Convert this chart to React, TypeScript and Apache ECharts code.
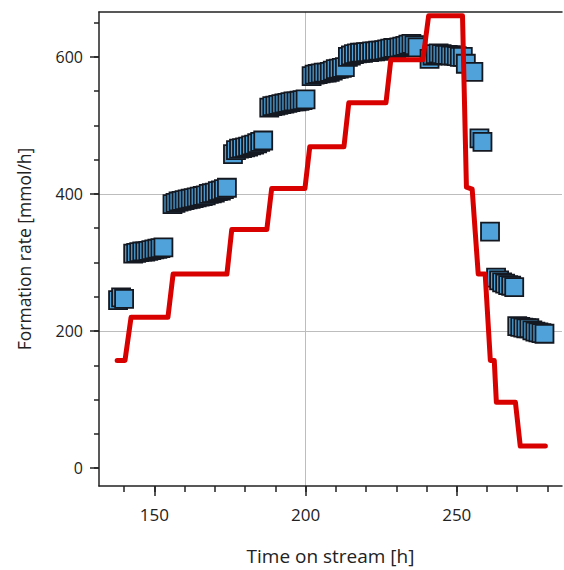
import React, { useEffect, useRef } from "react";
import * as echarts from "echarts";

// Measured formation rate (blue squares)
const measuredTime = [
  138, 139, 140,
  143, 144, 145, 146, 147, 148, 149, 150, 151, 152, 153,
  156, 157, 158, 159, 160, 161, 162, 163, 164, 165, 166, 167, 168, 169, 170, 171, 172, 173, 174,
  176, 177, 178, 179, 180, 181, 182, 183, 184, 185, 186,
  188, 189, 190, 191, 192, 193, 194, 195, 196, 197, 198, 199, 200,
  202, 203, 204, 205, 206, 207, 208, 209, 210, 211, 212, 213,
  214, 215, 216, 217, 218, 219, 220, 221, 222, 223, 224, 225, 226, 227, 228, 229, 230, 231, 232, 233, 234, 235, 236, 237,
  241, 242, 243, 244, 245, 246, 247, 248, 249, 250, 251, 252, 253, 255.5,
  257.5, 258.5,
  261,
  263, 264, 265, 266, 267, 268, 269,
  270, 271, 272, 273, 274, 275, 276, 277, 278, 279,
];
const measuredRate = [
  245, 249, 247,
  313, 314, 315, 316, 316, 317, 318, 319, 320, 321, 322,
  385, 387, 389, 390, 391, 392, 393, 394, 395, 396, 397, 398, 400, 401, 402, 404, 405, 407, 409,
  458, 464, 466, 467, 468, 469, 471, 472, 474, 476, 478,
  526, 528, 529, 530, 531, 532, 533, 534, 535, 535, 536, 537, 538,
  572, 574, 575, 576, 577, 577, 578, 580, 582, 583, 584, 585,
  600, 602, 604, 605, 606, 606, 607, 607, 608, 608, 609, 609, 610, 611, 612, 613, 613, 614, 615, 616, 618, 619, 617, 614,
  597, 602, 604, 605, 604, 603, 603, 602, 602, 601, 600, 600, 590, 578,
  481, 476,
  345,
  278, 274, 271, 269, 267, 266, 264,
  207, 206, 205, 204, 204, 201, 199, 198, 197, 196,
];

// Set-point line (red)
const setTime = [
  137.7, 140.3, 142.3, 154.5, 156.2, 174.0, 175.6, 187.2, 188.8, 199.8, 201.4, 212.7,
  214.3, 226.6, 228.2, 238.8, 240.7, 251.9, 253.2, 255.1, 257.1, 259.4, 261.1, 262.4,
  263.1, 269.4, 271.0, 279.3,
];
const setRate = [
  157, 157, 220, 220, 283, 283, 348, 348, 408, 408, 469, 469,
  533, 533, 596, 596, 660, 660, 410, 407, 283, 283, 157, 157,
  96, 96, 32, 32,
];

const xLabelValues = [150, 200, 250];
const xMinorTicks = [140, 150, 160, 170, 180, 190, 200, 210, 220, 230, 240, 250, 260, 270, 280];
const yLabelValues = [0, 200, 400, 600];
const yMinorTicks = [0, 50, 100, 150, 200, 250, 300, 350, 400, 450, 500, 550, 600, 650];

const X_MIN = 131.7;
const X_MAX = 284.8;
const Y_MIN = -26.2;
const Y_MAX = 665.5;

const FONT = "'Open Sans', 'Noto Sans', 'DejaVu Sans', sans-serif";
const AXIS_COLOR = "#222";

export default function App() {
  const ref = useRef<HTMLDivElement>(null);

  useEffect(() => {
    if (!ref.current) return;
    const chart = echarts.init(ref.current, null, { renderer: "svg" });

    const axisLineStyle = { color: AXIS_COLOR, width: 1.5 };

    const scatterData = measuredTime.map((t, i) => [t, measuredRate[i]]);
    const lineData = setTime.map((t, i) => [t, setRate[i]]);

    chart.setOption({
      animation: false,
      backgroundColor: "#ffffff",
      grid: { left: 99, right: 2, top: 12, bottom: 83, containLabel: false },
      xAxis: [
        {
          type: "value",
          min: X_MIN,
          max: X_MAX,
          splitNumber: 3,
          position: "bottom",
          name: "Time on stream [h]",
          nameLocation: "middle",
          nameGap: 60,
          nameTextStyle: { fontSize: 19, color: AXIS_COLOR, fontFamily: FONT },
          axisLine: { show: true, onZero: false, lineStyle: axisLineStyle },
          axisTick: { show: true, customValues: xLabelValues, length: 10, inside: false, lineStyle: axisLineStyle },
          axisLabel: { customValues: xLabelValues, margin: 20, fontSize: 17, color: AXIS_COLOR, fontFamily: FONT },
          splitLine: { show: true, showMinLine: false, showMaxLine: false, lineStyle: { color: "#bdbdbd", width: 1 } },
        },
        {
          type: "value",
          min: X_MIN,
          max: X_MAX,
          position: "bottom",
          axisLine: { show: false, onZero: false },
          axisTick: { show: true, customValues: xMinorTicks, length: 6, inside: false, lineStyle: axisLineStyle },
          axisLabel: { show: false },
          splitLine: { show: false },
        },
        {
          type: "value",
          min: X_MIN,
          max: X_MAX,
          position: "top",
          axisLine: { show: true, onZero: false, lineStyle: axisLineStyle },
          axisTick: { show: false },
          axisLabel: { show: false },
          splitLine: { show: false },
        },
      ],
      yAxis: [
        {
          type: "value",
          min: Y_MIN,
          max: Y_MAX,
          splitNumber: 3,
          position: "left",
          name: "Formation rate [mmol/h]",
          nameLocation: "middle",
          nameGap: 66,
          nameTextStyle: { fontSize: 17.5, color: AXIS_COLOR, fontFamily: FONT },
          axisLine: { show: true, onZero: false, lineStyle: axisLineStyle },
          axisTick: { show: true, customValues: yLabelValues, length: 9, inside: false, lineStyle: axisLineStyle },
          axisLabel: { customValues: yLabelValues, margin: 16, fontSize: 16, color: AXIS_COLOR, fontFamily: FONT },
          splitLine: { show: true, showMinLine: false, showMaxLine: false, lineStyle: { color: "#bdbdbd", width: 1 } },
        },
        {
          type: "value",
          min: Y_MIN,
          max: Y_MAX,
          position: "left",
          axisLine: { show: false, onZero: false },
          axisTick: { show: true, customValues: yMinorTicks, length: 5, inside: false, lineStyle: axisLineStyle },
          axisLabel: { show: false },
          splitLine: { show: false },
        },
      ],
      series: [
        {
          type: "scatter",
          xAxisIndex: 0,
          yAxisIndex: 0,
          symbol: "rect",
          symbolSize: 18,
          data: scatterData,
          itemStyle: { color: "#4fa3da", borderColor: "#141820", borderWidth: 1.8, opacity: 1 },
          z: 2,
        },
        {
          type: "line",
          xAxisIndex: 0,
          yAxisIndex: 0,
          data: lineData,
          showSymbol: false,
          symbol: "none",
          lineStyle: { color: "#d90000", width: 5, cap: "round", join: "round" },
          z: 3,
        },
      ],
    });

    return () => chart.dispose();
  }, []);

  return (
    <div
      ref={ref}
      style={{ position: "fixed", left: 0, top: 0, width: 564, height: 570, background: "#fff" }}
    />
  );
}
